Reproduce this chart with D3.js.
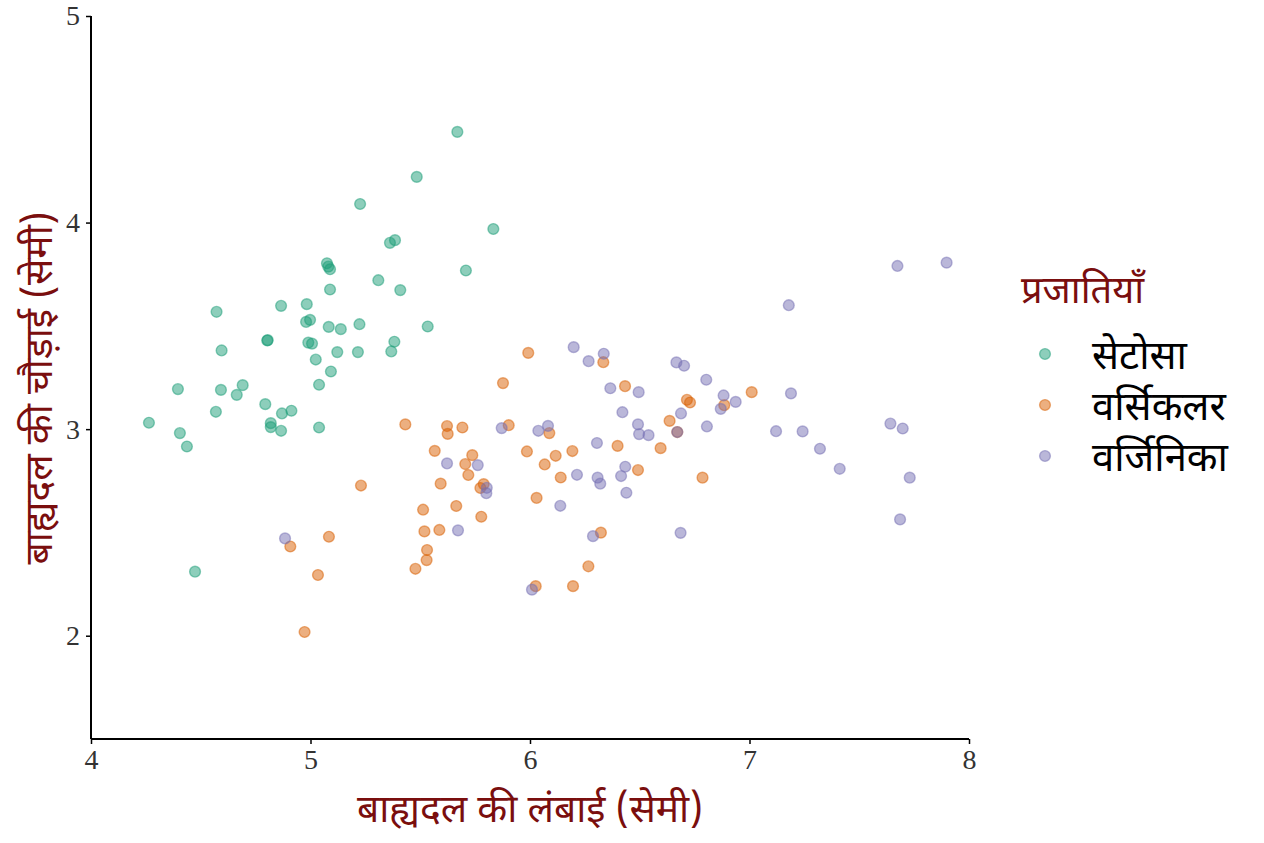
<!DOCTYPE html>
<html>
<head>
<meta charset="utf-8">
<script src="https://cdn.jsdelivr.net/npm/d3@7"></script>
<style>
  body { margin: 0; background: #fff; }
  svg text { font-family: "Noto Sans Devanagari", "Noto Sans", sans-serif; }
  .tick text { font-family: "Liberation Serif", "DejaVu Serif", serif; }
</style>
</head>
<body>
<div id="chart"></div>
<script>
// species, in legend order
const species = ["सेटोसा", "वर्सिकलर", "वर्जिनिका"];
const speciesColors = ["#1B9E77", "#D95F02", "#7570B3"];

// sepal length / width (jittered points)
const setosaLength = [5.669, 5.484, 5.226, 5.833, 5.362, 5.385, 5.075, 5.081, 5.089, 5.708,
  5.309, 5.089, 5.409, 4.572, 4.866, 4.983, 4.980, 4.998, 5.083, 5.138,
  5.223, 5.534, 4.595, 4.803, 4.805, 4.990, 5.007, 5.122, 5.216, 5.382,
  5.368, 5.024, 5.093, 5.039, 4.396, 4.592, 4.691, 4.664, 4.569, 4.794,
  4.870, 4.913, 4.264, 4.819, 4.819, 4.866, 5.039, 4.405, 4.437, 4.474];
const setosaWidth = [4.439, 4.221, 4.090, 3.969, 3.902, 3.915, 3.803, 3.787, 3.774, 3.768,
  3.721, 3.676, 3.673, 3.568, 3.597, 3.605, 3.519, 3.529, 3.495, 3.484,
  3.508, 3.497, 3.381, 3.429, 3.431, 3.419, 3.414, 3.373, 3.373, 3.423,
  3.376, 3.337, 3.279, 3.215, 3.194, 3.190, 3.213, 3.166, 3.084, 3.121,
  3.076, 3.089, 3.031, 3.029, 3.010, 2.992, 3.008, 2.981, 2.916, 2.310];

const versicolorLength = [5.992, 6.334, 5.877, 6.433, 5.432, 5.622, 5.625, 5.692, 5.903, 6.088,
  5.566, 5.737, 5.705, 5.719, 5.593, 5.789, 5.774, 5.986, 6.117, 6.193,
  6.067, 6.140, 6.399, 6.492, 5.230, 5.513, 5.664, 5.778, 6.030, 5.519,
  5.587, 6.323, 5.084, 4.908, 5.531, 5.529, 5.478, 5.034, 6.266, 6.026,
  6.196, 4.973, 6.715, 6.729, 6.636, 6.595, 7.010, 6.885, 6.671, 6.786];
const versicolorWidth = [3.369, 3.324, 3.223, 3.208, 3.023, 3.015, 2.977, 3.008, 3.019, 2.981,
  2.895, 2.874, 2.831, 2.778, 2.736, 2.734, 2.715, 2.892, 2.871, 2.894,
  2.829, 2.766, 2.919, 2.802, 2.727, 2.610, 2.628, 2.576, 2.667, 2.505,
  2.512, 2.499, 2.479, 2.432, 2.415, 2.366, 2.324, 2.294, 2.336, 2.240,
  2.240, 2.018, 3.142, 3.129, 3.040, 2.908, 3.179, 3.116, 2.986, 2.765];

const virginicaLength = [6.199, 6.267, 6.336, 6.366, 6.495, 6.421, 6.492, 6.497, 6.540, 5.871,
  6.038, 6.082, 6.305, 5.622, 5.762, 5.803, 5.801, 6.214, 6.308, 6.320,
  6.415, 6.434, 6.439, 6.138, 5.672, 6.287, 4.884, 6.009, 6.667, 6.702,
  6.803, 6.882, 6.937, 6.869, 6.688, 6.806, 6.671, 7.121, 6.686, 7.674,
  7.898, 7.179, 7.189, 7.242, 7.321, 7.411, 7.642, 7.698, 7.730, 7.686];
const virginicaWidth = [3.397, 3.329, 3.365, 3.198, 3.179, 3.082, 3.023, 2.976, 2.971, 3.005,
  2.992, 3.016, 2.933, 2.834, 2.826, 2.716, 2.690, 2.779, 2.765, 2.736,
  2.773, 2.818, 2.692, 2.629, 2.510, 2.482, 2.471, 2.223, 3.323, 3.307,
  3.239, 3.163, 3.132, 3.098, 3.076, 3.013, 2.986, 2.990, 2.498, 3.790,
  3.806, 3.600, 3.173, 2.989, 2.905, 2.808, 3.027, 3.003, 2.765, 2.563];

const xTicks = [4, 5, 6, 7, 8];
const yTicks = [2, 3, 4, 5];

const xLabel = "बाह्यदल की लंबाई (सेमी)";
const yLabel = "बाह्यदल की चौड़ाई (सेमी)";
const legendTitle = "प्रजातियाँ";

const lengths = [setosaLength, versicolorLength, virginicaLength];
const widths = [setosaWidth, versicolorWidth, virginicaWidth];
const points = [];
species.forEach((s, i) => {
  lengths[i].forEach((v, j) => points.push({ species: s, length: v, width: widths[i][j] }));
});

const W = 1264, H = 843;
const svg = d3.select('#chart').append('svg')
  .attr('width', W).attr('height', H);

const x = d3.scaleLinear().domain([4, 8]).range([91, 969]);
const y = d3.scaleLinear().domain([1.5, 5]).range([739, 16]);
const color = d3.scaleOrdinal().domain(species).range(speciesColors);

// axes
const xAxis = svg.append('g')
  .attr('transform', `translate(0,739)`)
  .call(d3.axisBottom(x).tickValues(xTicks).tickSize(5).tickPadding(5).tickFormat(d3.format('d')));
const yAxis = svg.append('g')
  .attr('transform', `translate(91,0)`)
  .call(d3.axisLeft(y).tickValues(yTicks).tickSize(5).tickPadding(6).tickFormat(d3.format('d')));

[xAxis, yAxis].forEach(a => {
  a.select('.domain').attr('stroke', '#000').attr('stroke-width', 2);
  a.selectAll('.tick line').attr('stroke', '#000').attr('stroke-width', 1.5);
  a.selectAll('.tick text').attr('fill', '#333').style('font-size', '28px');
});
// plain axis lines, no end caps
xAxis.select('.domain').attr('d', `M${x(4)},0H${x(8)}`);
yAxis.select('.domain').attr('d', `M0,${y(5)}V${y(1.5)}`);

// points
svg.append('g')
  .selectAll('circle')
  .data(points)
  .enter().append('circle')
  .attr('cx', d => x(d.length))
  .attr('cy', d => y(d.width))
  .attr('r', 5.4)
  .attr('fill', d => color(d.species))
  .attr('stroke', d => color(d.species))
  .attr('stroke-width', 1.4)
  .attr('fill-opacity', 0.5)
  .attr('stroke-opacity', 0.5);

// axis titles
svg.append('text')
  .attr('x', 530).attr('y', 822)
  .attr('text-anchor', 'middle')
  .attr('fill', '#7a0e0e')
  .style('font-size', '39px')
  .text(xLabel);

svg.append('text')
  .attr('transform', 'translate(52,388) rotate(-90)')
  .attr('text-anchor', 'middle')
  .attr('fill', '#7a0e0e')
  .style('font-size', '39px')
  .text(yLabel);

// legend
const legend = svg.append('g').attr('transform', 'translate(1021,0)');
legend.append('text')
  .attr('x', 0).attr('y', 303)
  .attr('fill', '#7a0e0e')
  .style('font-size', '38px')
  .text(legendTitle);

species.forEach((s, i) => {
  const yy = 354 + i * 51;
  legend.append('circle')
    .attr('cx', 24).attr('cy', yy).attr('r', 5.4)
    .attr('fill', color(s)).attr('fill-opacity', 0.5)
    .attr('stroke', color(s)).attr('stroke-opacity', 0.5).attr('stroke-width', 1.4);
  legend.append('text')
    .attr('x', 71).attr('y', yy + 15)
    .attr('fill', '#000')
    .style('font-size', '40px')
    .text(s);
});
</script>
</body>
</html>
